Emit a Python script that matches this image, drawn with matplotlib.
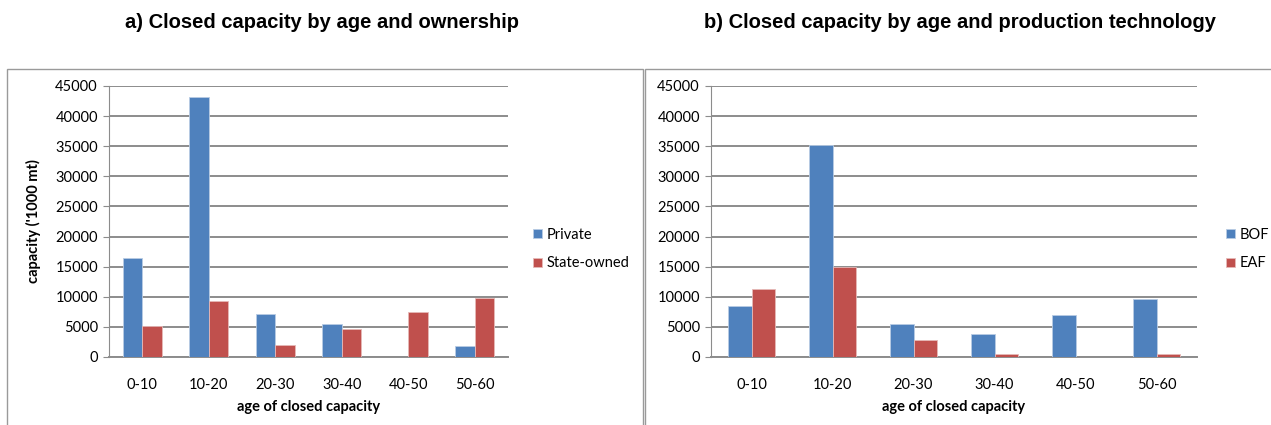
import matplotlib.pyplot as plt
import numpy as np
from matplotlib.patches import Rectangle

ages = ['0-10', '10-20', '20-30', '30-40', '40-50', '50-60']
private = [16400, 43100, 7100, 5400, 0, 1850]
state_owned = [5200, 9300, 1950, 4600, 7450, 9850]
bof = [8500, 35200, 5500, 3900, 7000, 9600]
eaf = [11300, 15000, 2800, 500, 0, 450]

blue = '#4F81BD'
red = '#C0504D'
grid_col = '#8C8C8C'
tick_font = 'Lato'

fig = plt.figure(figsize=(12.71, 4.25), dpi=100)

def px(x, y):
    return x / 1271, 1 - y / 425

# panel frames
fig.patches.append(Rectangle(px(7, 440), 636 / 1271, 371 / 425, transform=fig.transFigure,
                             fill=False, edgecolor='#9A9A9A', lw=1))
fig.patches.append(Rectangle(px(645, 440), 640 / 1271, 371 / 425, transform=fig.transFigure,
                             fill=False, edgecolor='#9A9A9A', lw=1))

def draw(left_px, right_px, s1, s2, names, legend_x, ylabel):
    x0, y0 = px(left_px, 357)
    ax = fig.add_axes([x0, y0, (right_px - left_px) / 1271, 271 / 425])
    x = np.arange(len(ages))
    w = 0.29
    ax.bar(x - w / 2, s1, w, color=blue, edgecolor='#B8CCE4', lw=0.6, label=names[0], zorder=3)
    ax.bar(x + w / 2, s2, w, color=red, edgecolor='#E6B9B8', lw=0.6, label=names[1], zorder=3)
    ax.set_xlim(-0.5, len(ages) - 0.5)
    ax.set_ylim(0, 45000)
    ax.set_yticks(range(0, 45001, 5000))
    ax.set_xticks(x)
    ax.set_xticklabels(ages, fontsize=10.5, family=tick_font)
    for lab in ax.get_yticklabels():
        lab.set_fontsize(10.5)
        lab.set_family(tick_font)
    ax.yaxis.grid(True, color=grid_col, lw=1.4, zorder=0)
    ax.set_axisbelow(True)
    for s in ['top', 'right']:
        ax.spines[s].set_visible(False)
    ax.spines['left'].set_color(grid_col)
    ax.spines['bottom'].set_color(grid_col)
    ax.spines['bottom'].set_linewidth(1.4)
    ax.tick_params(axis='x', length=0, pad=15)
    ax.tick_params(axis='y', length=4, color=grid_col, pad=4)
    ax.set_xlabel('age of closed capacity', fontsize=10.5, fontweight='bold', family=tick_font, labelpad=6)
    if ylabel:
        ax.set_ylabel(ylabel, fontsize=10.5, fontweight='bold', family=tick_font, labelpad=10)
    lx, ly = px(legend_x, 249)
    ax.legend(loc='center left', bbox_to_anchor=(lx, ly), bbox_transform=fig.transFigure,
              frameon=False, prop={'family': tick_font, 'size': 10.5},
              borderpad=0, borderaxespad=0,
              handlelength=0.6, handleheight=0.6, handletextpad=0.35, labelspacing=1.0)
    return ax

draw(109, 508, private, state_owned, ['Private', 'State-owned'], 533, "capacity ('1000 mt)")
draw(711, 1197, bof, eaf, ['BOF', 'EAF'], 1226, None)

fig.text(*px(322, 22), 'a) Closed capacity by age and ownership', ha='center', va='center',
         fontsize=14.5, fontweight='bold', family='Liberation Sans')
fig.text(*px(960, 22), 'b) Closed capacity by age and production technology', ha='center', va='center',
         fontsize=14.5, fontweight='bold', family='Liberation Sans')

fig.savefig('out.png', dpi=100)
